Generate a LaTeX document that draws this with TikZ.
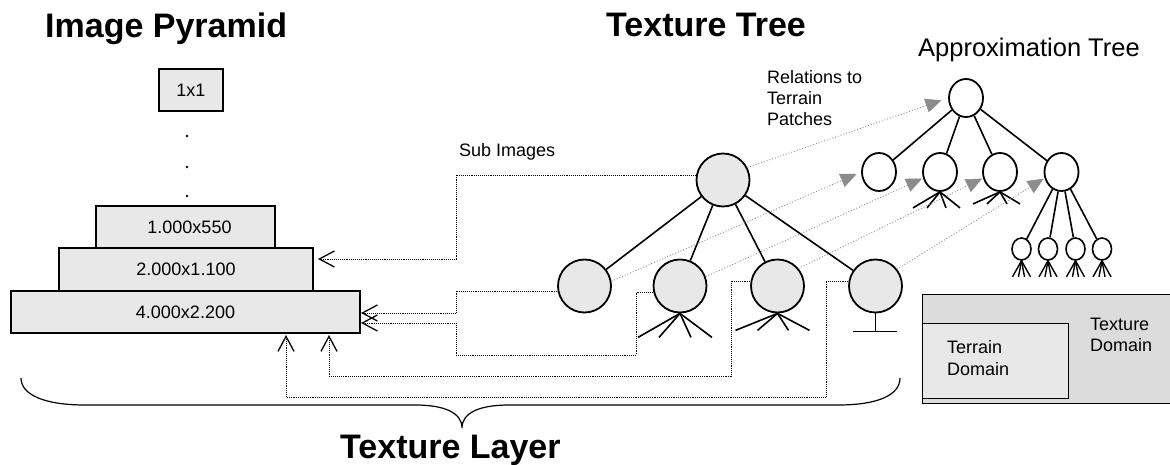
\documentclass[tikz,border=0pt]{standalone}
\usepackage{fontspec}
\setmainfont{Liberation Sans}
\usetikzlibrary{arrows.meta,shapes.geometric}
\definecolor{lightfill}{HTML}{E8E8E8}
\definecolor{darkfill}{HTML}{DCDCDC}
\definecolor{relgray}{HTML}{8C8C8C}
\begin{document}
\begin{tikzpicture}[x=1pt,y=-1pt,
  tnode/.style={circle, draw, line width=1.8pt, fill=lightfill, minimum size=53pt, inner sep=0pt},
  anode/.style={ellipse, draw, line width=1.8pt, fill=white, minimum width=34pt, minimum height=38pt, inner sep=0pt},
  bnode/.style={ellipse, draw, line width=1.6pt, fill=white, minimum width=19pt, minimum height=22pt, inner sep=0pt},
  pbox/.style={draw, line width=1.4pt, fill=lightfill, inner sep=0pt, font=\fontsize{18}{21}\selectfont},
  treeedge/.style={line width=1.6pt},
  subimg/.style={densely dotted, line width=0.9pt, -{Straight Barb[length=15pt,width=16pt,line width=1.3pt]}},
  relation/.style={dotted, draw=relgray, line width=0.9pt, -{Triangle[length=16pt,width=14pt,fill=relgray,line width=0.5pt]}},
  lbl/.style={inner sep=0pt, font=\fontsize{18}{21}\selectfont, align=left},
  title/.style={inner sep=0pt, font=\fontsize{34}{38}\selectfont\bfseries},
]
\fill[white] (0,0) rectangle (1170,465);
\useasboundingbox (0,0) rectangle (1170,465);

% titles
\node[title, anchor=base west] (tpyr) at (45,38) {Image Pyramid};
\node[title, anchor=base west] (ttree) at (606,37) {Texture Tree};
\node[inner sep=0pt, font=\fontsize{25.5}{30}\selectfont, anchor=base west] (tapprox) at (918,57) {Approximation Tree};
\node[title, anchor=base west] (tlayer) at (340,458) {Texture Layer};

% pyramid
\node[pbox, minimum width=64pt, minimum height=42pt] (P0) at (191,90) {1x1};
\fill (187,136) circle (1.3) (187,167) circle (1.3) (187,196) circle (1.3);
\node[pbox, minimum width=179pt, minimum height=42pt] (P1) at (185.5,227) {\hspace*{8pt}1.000x550};
\node[pbox, minimum width=254pt, minimum height=43pt] (P2) at (186,269.5) {2.000x1.100};
\node[pbox, minimum width=349pt, minimum height=42pt] (P3) at (185.5,312) {4.000x2.200};

% domain boxes
\node[draw, line width=1.2pt, fill=darkfill, minimum width=248pt, minimum height=109pt, anchor=north west, inner sep=0pt] (D0) at (922,294) {};
\node[draw, line width=1.2pt, fill=lightfill, minimum width=146pt, minimum height=75pt, anchor=north west, inner sep=0pt] (D1) at (922,323) {};
\node[lbl, anchor=north west, font=\fontsize{18}{22}\selectfont] (terraintxt) at (947,340) {Terrain\\Domain};
\node[lbl, anchor=north west] (texturetxt) at (1090,318) {Texture\\Domain};

% labels
\node[lbl, anchor=north west] (reltxt) at (767,70) {Relations to\\Terrain\\Patches};
\node[lbl, anchor=base west] (subtxt) at (459,157) {Sub Images};

% texture tree
\node[tnode] (T0) at (723,180) {};
\node[tnode] (T1) at (584.5,286) {};
\node[tnode] (T2) at (680,286) {};
\node[tnode] (T3) at (777.5,286) {};
\node[tnode] (T4) at (875.5,286) {};
\foreach \c in {T1,T2,T3,T4} \draw[treeedge] (T0) -- (\c);
\foreach \dx in {-42,-21,11,32} \draw[treeedge] (T2.south) -- ++(\dx,24);
\foreach \dx in {-42,-20,11,32} \draw[treeedge] (T3.south) -- ++(\dx,17);
\draw[treeedge] (T4.south) -- ++(0,18);
\draw[treeedge] ([yshift=-18pt]T4.south) ++(-22.5,0) -- ++(44,0);

% approximation tree
\node[anode] (A0) at (966,98) {};
\node[anode] (A1) at (879,172) {};
\node[anode] (A2) at (940,172) {};
\node[anode] (A3) at (1000,172) {};
\node[anode] (A4) at (1061.5,172) {};
\node[bnode] (B1) at (1021.5,249) {};
\node[bnode] (B2) at (1048,249) {};
\node[bnode] (B3) at (1075.5,249) {};
\node[bnode] (B4) at (1102,249) {};
\foreach \c in {A1,A2,A3,A4} \draw[treeedge] (A0) -- (\c);
\foreach \c in {B1,B2,B3,B4} \draw[treeedge] (A4) -- (\c);
\foreach \dx in {-27,-13,6,20} \draw[treeedge] (A2.south) -- ++(\dx,16);
\foreach \dx in {-27,-13,7,20} \draw[treeedge] (A3.south) -- ++(\dx,12);
\foreach \b in {B1,B2,B3,B4}
  \foreach \dx in {-9,-3,3,9} \draw[line width=1.4pt] (\b.south) -- ++(\dx,16);

% relations (gray)
\draw[relation, shorten >=7pt] (T0.27) -- (A0.west);
\draw[relation, shorten >=5pt] (T1.10) -- (A1.west);
\draw[relation, shorten >=1pt] (T2.20) -- (A2.200);
\draw[relation, shorten >=1pt] (T3.40) -- (A3.200);
\draw[relation, shorten >=1pt] (T4.38) -- (A4.200);

% sub images (black dotted)
\coordinate (e1) at (318,259);
\coordinate (e2) at (361,313);
\coordinate (e3) at (361,323);
\coordinate (e4) at (329,335);
\coordinate (e5) at (286,335);
\draw[subimg] ([yshift=5pt]T0.west) -- (456,175) -- (456,259) -- (e1);
\draw[subimg] ([yshift=-5pt]T1.west) -- (456,291) -- (456,313) -- (e2);
\draw[subimg] ([yshift=-6pt]T2.west) -- (636,292) -- (636,355) -- (456,355) -- (456,323) -- (e3);
\draw[subimg] ([yshift=5pt]T3.west) -- (731,281) -- (731,376) -- (329,376) -- (e4);
\draw[subimg] ([yshift=5pt]T4.west) -- (826,281) -- (826,397) -- (286,397) -- (e5);

% brace
\draw[line width=1.2pt] (21,378) .. controls (21,395) and (45,405) .. (85,405)
  -- (415,405) .. controls (445,405) and (462,413) .. (462,428)
  .. controls (462,413) and (479,405) .. (509,405)
  -- (838,405) .. controls (878,405) and (900,395) .. (900,378);
\end{tikzpicture}
\end{document}
